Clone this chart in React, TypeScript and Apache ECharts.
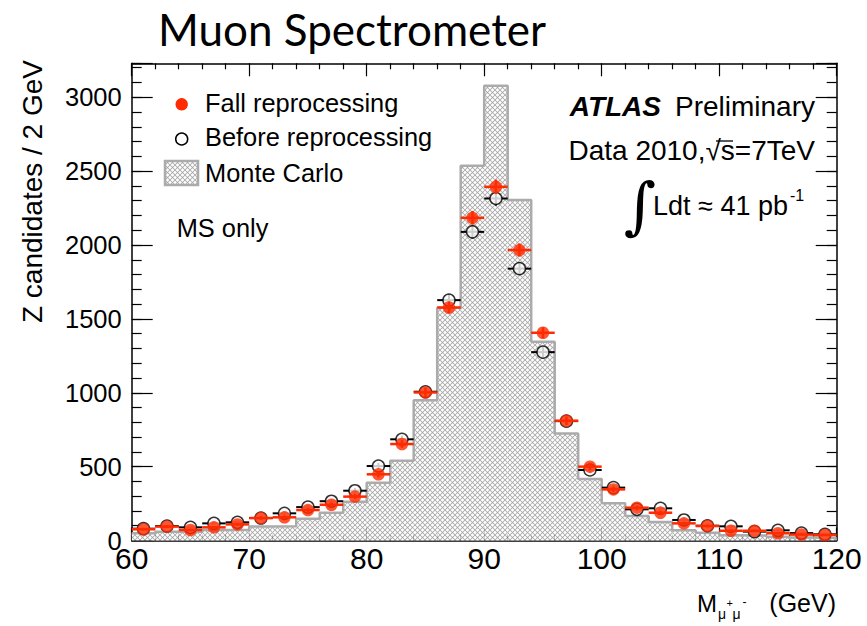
import React, { useEffect, useRef } from "react";
import * as echarts from "echarts";

// Dimuon invariant mass, 2 GeV bins from 60 to 120 GeV
const binCenters = [
  61, 63, 65, 67, 69, 71, 73, 75, 77, 79, 81, 83, 85, 87, 89,
  91, 93, 95, 97, 99, 101, 103, 105, 107, 109, 111, 113, 115, 117, 119,
];
const binWidth = 2;

const monteCarlo = [
  49, 60, 60, 71, 73, 94, 97, 147, 188, 263, 391, 540, 950, 1575, 2537,
  3078, 2304, 1345, 725, 417, 252, 166, 126, 70, 52, 35, 33, 25, 20, 17,
];
const fallReprocessing = [
  76, 94, 71, 89, 109, 152, 157, 206, 242, 297, 448, 653, 1002, 1577, 2184,
  2394, 1966, 1406, 811, 500, 346, 222, 188, 116, 98, 66, 66, 49, 40, 37,
];
const beforeReprocessing = [
  80, 98, 89, 116, 123, 152, 184, 226, 266, 337, 504, 685, 1007, 1627, 2089,
  2315, 1840, 1275, 808, 477, 358, 211, 218, 139, 100, 96, 60, 69, 50, 42,
];

const xMin = 60;
const xMax = 120;
const yMax = 3230;

const FONT = "'Liberation Sans', Arial, Helvetica, sans-serif";
const RED = "#ff2a00";
const MC_LINE = "#ababab";

// Cross-hatched tile for the simulated histogram
function makeHatch() {
  const s = 20;
  const c = document.createElement("canvas");
  c.width = s;
  c.height = s;
  const g = c.getContext("2d")!;
  g.fillStyle = "#ffffff";
  g.fillRect(0, 0, s, s);
  g.strokeStyle = "#a4a4a4";
  g.lineWidth = 3.2;
  const seg = (a: number, b: number, c2: number, d: number) => {
    g.beginPath();
    g.moveTo(a, b);
    g.lineTo(c2, d);
    g.stroke();
  };
  seg(-s, -s, 2 * s, 2 * s);
  seg(0, -s, 2 * s, s);
  seg(-2 * s, -s, s, 2 * s);
  seg(-s, 2 * s, 2 * s, -s);
  seg(-2 * s, s, s, -2 * s);
  seg(0, 2 * s, 3 * s, -s);
  return { image: c, repeat: "repeat", scaleX: 0.25, scaleY: 0.25 } as any;
}

function errorBars(color: string, width: number) {
  return (_params: any, api: any) => {
    const x = api.value(0);
    const y = api.value(1);
    const e = api.value(2);
    const l = api.coord([x - binWidth / 2, y]);
    const r = api.coord([x + binWidth / 2, y]);
    const lo = api.coord([x, y - e]);
    const hi = api.coord([x, y + e]);
    return {
      type: "group",
      children: [
        { type: "line", shape: { x1: l[0], y1: l[1], x2: r[0], y2: r[1] }, style: { stroke: color, lineWidth: width } },
        { type: "line", shape: { x1: lo[0], y1: lo[1], x2: hi[0], y2: hi[1] }, style: { stroke: color, lineWidth: width } },
      ],
    };
  };
}

const tickStyle = { color: "#000", width: 1.2 };
const lineStyle = { color: "#000", width: 1.5 };

function xAxisDef(position: "bottom" | "top", labels: boolean) {
  return {
    type: "value",
    position,
    min: xMin,
    max: xMax,
    interval: 10,
    axisLine: { show: true, onZero: false, lineStyle },
    axisTick: { show: true, inside: true, length: 13, lineStyle: tickStyle },
    minorTick: { show: true, splitNumber: 5, length: 6, lineStyle: tickStyle },
    axisLabel: { show: labels, fontSize: 30, lineHeight: 22, fontFamily: FONT, color: "#000", margin: 7 },
    splitLine: { show: false },
    minorSplitLine: { show: false },
  };
}

function yAxisDef(position: "left" | "right", major: boolean, labels: boolean) {
  return {
    type: "value",
    position,
    min: 0,
    max: yMax,
    interval: major ? 500 : 100,
    axisLine: { show: major, onZero: false, lineStyle },
    axisTick: { show: true, inside: true, length: major ? 21 : 10, lineStyle: tickStyle },
    axisLabel: {
      show: labels,
      fontSize: 25.5,
      lineHeight: 16,
      fontFamily: FONT,
      color: "#000",
      margin: 10,
      formatter: (v: number) => (v % 500 === 0 ? String(v) : ""),
    },
    splitLine: { show: false },
  };
}

export default function App() {
  const ref = useRef<HTMLDivElement>(null);

  useEffect(() => {
    if (!ref.current) return;
    const chart = echarts.init(ref.current, undefined, { renderer: "svg" });
    const hatch = makeHatch();

    const mcData = binCenters.map((c, i) => [c, monteCarlo[i]]);
    const mcOutline = binCenters.map((c, i) => [c - binWidth / 2, monteCarlo[i]]);
    mcOutline.push([binCenters[binCenters.length - 1] + binWidth / 2, monteCarlo[monteCarlo.length - 1]]);
    const fallData = binCenters.map((c, i) => [c, fallReprocessing[i], Math.sqrt(fallReprocessing[i])]);
    const beforeData = binCenters.map((c, i) => [c, beforeReprocessing[i], Math.sqrt(beforeReprocessing[i])]);

    const txt = (text: string, x: number, y: number, size: number, extra: any = {}) => ({
      type: "text",
      x,
      y,
      silent: true,
      style: {
        text,
        fill: "#000",
        fontSize: size,
        fontFamily: FONT,
        align: "left",
        verticalAlign: "middle",
        ...extra,
      },
    });

    chart.setOption({
      animation: false,
      backgroundColor: "#fff",
      grid: { left: 131.7, right: 30.3, top: 63.3, bottom: 85.5, containLabel: false, outerBoundsMode: "none" },
      xAxis: [xAxisDef("bottom", true), xAxisDef("top", false)],
      yAxis: [
        yAxisDef("left", true, true),
        yAxisDef("left", false, false),
        yAxisDef("right", true, false),
        yAxisDef("right", false, false),
      ],
      series: [
        {
          name: "Monte Carlo",
          type: "custom",
          xAxisIndex: 0,
          yAxisIndex: 0,
          data: mcData,
          encode: { x: 0, y: 1 },
          renderItem: (_p: any, api: any) => {
            const c = api.value(0);
            const v = api.value(1);
            const a = api.coord([c - binWidth / 2, v]);
            const b = api.coord([c + binWidth / 2, 0]);
            return {
              type: "rect",
              shape: { x: a[0], y: a[1], width: b[0] - a[0], height: b[1] - a[1] },
              style: { fill: hatch, stroke: null },
            };
          },
          z: 1,
        },
        {
          name: "Monte Carlo outline",
          type: "line",
          xAxisIndex: 0,
          yAxisIndex: 0,
          step: "end",
          data: mcOutline,
          symbol: "none",
          lineStyle: { color: MC_LINE, width: 2.5 },
          z: 2,
        },
        {
          name: "Before reprocessing errors",
          type: "custom",
          xAxisIndex: 0,
          yAxisIndex: 0,
          data: beforeData,
          encode: { x: 0, y: 1 },
          renderItem: errorBars("#000", 2),
          z: 3,
        },
        {
          name: "Before reprocessing",
          type: "scatter",
          xAxisIndex: 0,
          yAxisIndex: 0,
          data: beforeData.map((d) => [d[0], d[1]]),
          symbol: "circle",
          symbolSize: 12,
          itemStyle: { color: "#fff", borderColor: "#000", borderWidth: 1.5 },
          z: 4,
        },
        {
          name: "Fall reprocessing errors",
          type: "custom",
          xAxisIndex: 0,
          yAxisIndex: 0,
          data: fallData,
          encode: { x: 0, y: 1 },
          renderItem: errorBars(RED, 2.5),
          z: 5,
        },
        {
          name: "Fall reprocessing",
          type: "scatter",
          xAxisIndex: 0,
          yAxisIndex: 0,
          data: fallData.map((d) => [d[0], d[1]]),
          symbol: "circle",
          symbolSize: 12.5,
          itemStyle: { color: RED },
          z: 6,
        },
      ],
      graphic: [
        txt("Muon Spectrometer", 158, 29, 44, { fontFamily: "Lato, 'Open Sans', sans-serif" }),
        // y-axis title, reading upwards
        {
          type: "text",
          x: 32,
          y: 60,
          rotation: Math.PI / 2,
          silent: true,
          style: {
            text: "Z candidates / 2 GeV",
            fill: "#000",
            fontSize: 28,
            fontFamily: FONT,
            align: "right",
            verticalAlign: "middle",
          },
        },
        // x-axis title: M with a mu+ mu- subscript
        txt("M", 697, 603, 24, { lineHeight: 18 }),
        txt("\u03bc", 718, 614, 14, { lineHeight: 10 }),
        txt("+", 726.5, 602.5, 11, { lineHeight: 8 }),
        txt("\u03bc", 732.5, 614, 14, { lineHeight: 10 }),
        txt("-", 742.5, 601.5, 12, { lineHeight: 8 }),
        txt("(GeV)", 836, 603, 25, { align: "right" }),
        // legend
        { type: "circle", shape: { cx: 181.7, cy: 104.3, r: 6.2 }, style: { fill: RED }, silent: true },
        { type: "circle", shape: { cx: 181.7, cy: 139, r: 6 }, style: { fill: "#fff", stroke: "#000", lineWidth: 1.5 }, silent: true },
        { type: "rect", shape: { x: 165, y: 161, width: 33, height: 24 }, style: { fill: hatch, stroke: MC_LINE, lineWidth: 2.5 }, silent: true },
        txt("Fall reprocessing", 205, 102.6, 25.4),
        txt("Before reprocessing", 205, 136.6, 25.4),
        txt("Monte Carlo", 205, 172.6, 25.4),
        txt("MS only", 176.7, 227.6, 25.4),
        // experiment labels
        {
          type: "text",
          x: 815,
          y: 106.5,
          silent: true,
          style: {
            text: "{b|ATLAS}{n|Preliminary}",
            align: "right",
            verticalAlign: "middle",
            rich: {
              b: { fontSize: 28, fontFamily: FONT, fontWeight: "bold", fontStyle: "italic", fill: "#000", padding: [0, 14, 0, 0] },
              n: { fontSize: 28, fontFamily: FONT, fill: "#000" },
            },
          },
        },
        txt("Data 2010,\u221as=7TeV", 815, 150, 28, { align: "right" }),
        { type: "line", shape: { x1: 716, y1: 141, x2: 733, y2: 141 }, style: { stroke: "#000", lineWidth: 1.3 }, silent: true },
        txt("\u222b", 640, 205, 62, { align: "center", fontFamily: "'DejaVu Serif', serif" }),
        txt("Ldt \u2248 41 pb", 788, 205.5, 27, { align: "right" }),
        txt("-1", 790, 195, 16),
      ],
    });

    return () => chart.dispose();
  }, []);

  return (
    <div
      ref={ref}
      style={{ position: "fixed", left: 0, top: 0, width: 867, height: 626, background: "#fff" }}
    />
  );
}
